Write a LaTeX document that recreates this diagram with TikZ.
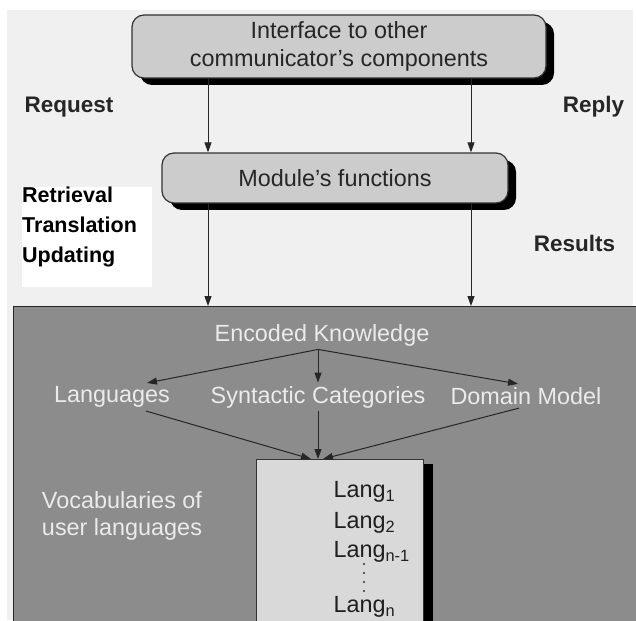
\documentclass[tikz,border=0pt]{standalone}
\usepackage{fontspec}
\setmainfont{Liberation Sans}
\usetikzlibrary{arrows.meta,shadows,calc,positioning}
\definecolor{paper}{gray}{0.94}
\definecolor{boxgray}{gray}{0.80}
\definecolor{kbgray}{gray}{0.55}
\definecolor{vocgray}{gray}{0.85}
\definecolor{inkgray}{gray}{0.92}
\tikzset{
  rbox/.style={draw=black!80, line width=1.2pt, fill=boxgray, rounded corners=12pt,
    drop shadow={shadow xshift=8pt, shadow yshift=-7pt, fill=black, opacity=1},
    font=\fontsize{23.4}{28}\selectfont, align=center, text=black!85},
  lbl/.style={font=\fontsize{22.5}{30}\selectfont\bfseries, text=black!85},
  kbtext/.style={font=\fontsize{23.4}{27}\selectfont, text=inkgray},
  langtext/.style={font=\fontsize{23.4}{28}\selectfont, text=black!88, anchor=west},
  arr/.style={-{Triangle[length=10pt,width=7pt]}, line width=1pt, black!85},
}

\begin{document}
\begin{tikzpicture}[x=1pt,y=-1pt]
    \useasboundingbox (0,0) rectangle (636,620);
    \clip (0,0) rectangle (636,620);
    % Paper
    \fill[paper] (7,10) rectangle (633,620);
    % Upper boxes and labels
    \node[rbox, minimum width=414pt, minimum height=63pt] (iface) at (339,46.5)
         {Interface to other\\communicator's components};
    \node[rbox, minimum width=346pt, minimum height=50pt] (module) at (335,178)
         {Module's functions};
    \node[lbl] (request) at (69,107) {Request};
    \node[lbl] (reply)   at (593.5,107) {Reply};
    \node[lbl] (results) at (574.5,243) {Results};
    \node[fill=white, inner sep=0pt, minimum width=130pt, minimum height=100pt,
          anchor=north west] (tasksbg) at (22,187) {};
    \node[lbl, font=\fontsize{21.5}{30}\selectfont\bfseries, text=black,
          inner sep=0pt, align=left, anchor=north west]
         (tasks) at (tasksbg.north west) {Retrieval\\Translation\\Updating};
    % Knowledge box
    \node[draw=black!85, line width=1.4pt, fill=kbgray, minimum width=640pt,
          minimum height=340pt, anchor=north west] (kb) at (13,306) {};
    % Vertical connectors
    \coordinate (lx) at (208,0);
    \coordinate (rx) at (471,0);
    \draw[arr] (iface.south -| lx) -- (module.north -| lx);
    \draw[arr] (iface.south -| rx) -- (module.north -| rx);
    \draw[arr] (module.south -| lx) -- (kb.north -| lx);
    \draw[arr] (module.south -| rx) -- (kb.north -| rx);
    % Encoded knowledge
    \node[kbtext] (ek)   at (322,335) {Encoded Knowledge};
    \node[kbtext] (lang) at (112,397) {Languages};
    \node[kbtext] (syn)  at (318,397) {Syntactic Categories};
    \node[kbtext] (dom)  at (526,396) {Domain Model};
    \node[kbtext, align=left] (vocab) at (122,516) {Vocabularies of\\user languages};
    \node[draw=black!80, line width=1pt, fill=vocgray, minimum width=167pt,
          minimum height=200pt, anchor=north west,
          drop shadow={shadow xshift=9pt, shadow yshift=-4pt, fill=black, opacity=1}]
         (vocbox) at (256,459) {};
    \coordinate (ekfoot) at (ek.south -| syn.north);
    \draw[arr] (ekfoot) -- ($(lang.north)+(35,0)$);
    \draw[arr] (ekfoot) -- (syn.north);
    \draw[arr] (ekfoot) -- ($(dom.north)+(-8,0)$);
    \draw[arr] ($(lang.south)+(34,0)$) -- ($(vocbox.north west)+(55,0)$);
    \draw[arr] (syn.south) -- (vocbox.north -| syn.south);
    \draw[arr] ($(dom.south)+(-7,0)$) -- ($(vocbox.north west)+(67,0)$);
    % Vocabulary entries
    \node[langtext] (lang1) at (330,492) {Lang\textsubscript{1}};
    \node[langtext] (lang2) at (330,523) {Lang\textsubscript{2}};
    \node[langtext] (langm) at (330,552) {Lang\textsubscript{n-1}};
    \node[langtext] (langn) at (330,607) {Lang\textsubscript{n}};
    \foreach \y in {564,573,582,591}
        \fill[black!80] (364,\y) circle (1.2pt);
\end{tikzpicture}
\end{document}
